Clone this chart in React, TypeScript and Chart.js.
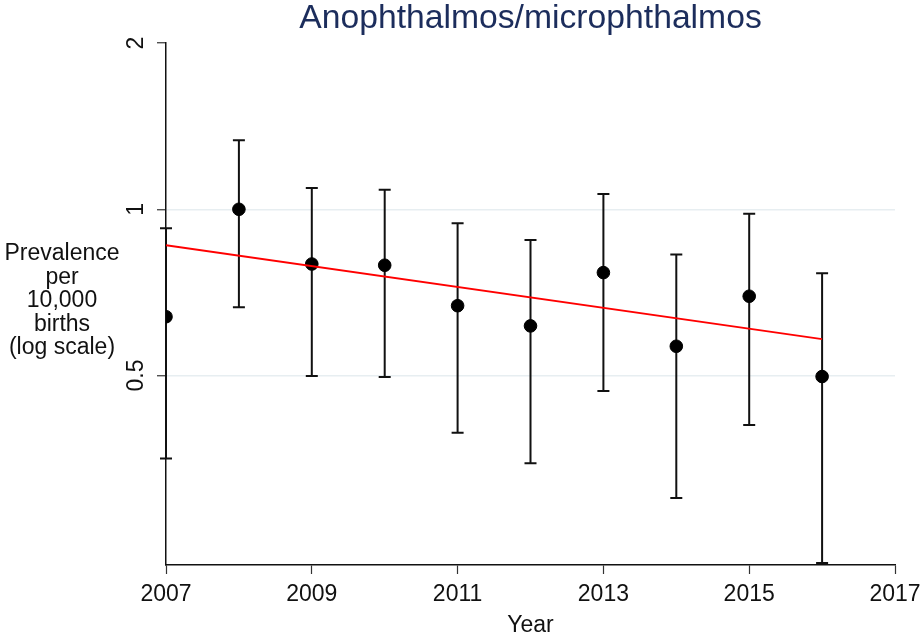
import React, { useEffect, useRef } from "react";
import { Chart, registerables } from "chart.js";

Chart.register(...registerables);

const chartTitle = "Anophthalmos/microphthalmos";
const yLabelLines = ["Prevalence", "per", "10,000", "births", "(log scale)"];
const xLabel = "Year";

const years = [2007, 2008, 2009, 2010, 2011, 2012, 2013, 2014, 2015, 2016];
const prevalence = [0.639, 1.0, 0.796, 0.792, 0.669, 0.615, 0.768, 0.565, 0.696, 0.498];
const lowerCI = [0.354, 0.665, 0.499, 0.497, 0.394, 0.347, 0.469, 0.3, 0.407, 0.229];
const upperCI = [0.924, 1.333, 1.093, 1.085, 0.943, 0.88, 1.066, 0.828, 0.982, 0.766];

const trendYears = [2007, 2016];
const trendValues = [0.861, 0.582];

const xTicks = [2007, 2009, 2011, 2013, 2015, 2017];
const yTicks = [0.5, 1, 2];
const yTickLabels = ["0.5", "1", "2"];

const FONT = "'Liberation Sans', Arial, Helvetica, sans-serif";

const errorBarPlugin = {
  id: "errorBars",
  beforeDatasetsDraw(chart: any) {
    const { ctx, scales } = chart;
    const xs = scales.x;
    const ys = scales.y;
    ctx.save();
    ctx.strokeStyle = "#111";
    ctx.lineWidth = 2;
    for (let i = 0; i < years.length; i++) {
      const x = xs.getPixelForValue(years[i]);
      const yl = ys.getPixelForValue(lowerCI[i]);
      const yu = ys.getPixelForValue(upperCI[i]);
      ctx.beginPath();
      ctx.moveTo(x, yl);
      ctx.lineTo(x, yu);
      ctx.moveTo(x - 6, yl);
      ctx.lineTo(x + 6, yl);
      ctx.moveTo(x - 6, yu);
      ctx.lineTo(x + 6, yu);
      ctx.stroke();
    }
    ctx.restore();
  },
};

const textPlugin = {
  id: "texts",
  afterDraw(chart: any) {
    const { ctx, chartArea } = chart;
    ctx.save();
    ctx.fillStyle = "#1c2d5c";
    ctx.font = `33.7px ${FONT}`;
    ctx.textAlign = "center";
    ctx.textBaseline = "middle";
    ctx.fillText(chartTitle, (chartArea.left + chartArea.right) / 2, 19);

    ctx.fillStyle = "#111";
    ctx.font = `23px ${FONT}`;
    const lh = 23.5;
    const midY = (chartArea.top + chartArea.bottom) / 2 - 3;
    const startY = midY - ((yLabelLines.length - 1) * lh) / 2;
    yLabelLines.forEach((line, i) => {
      ctx.fillText(line, 62, startY + i * lh);
    });
    ctx.restore();
  },
};

export default function App() {
  const canvasRef = useRef<HTMLCanvasElement | null>(null);

  useEffect(() => {
    const canvas = canvasRef.current;
    if (!canvas) return;
    const chart = new Chart(canvas, {
      type: "scatter",
      data: {
        datasets: [
          {
            type: "line",
            label: "Trend",
            data: trendYears.map((x, i) => ({ x, y: trendValues[i] })),
            borderColor: "#ff0000",
            borderWidth: 2,
            pointRadius: 0,
            fill: false,
            tension: 0,
          } as any,
          {
            type: "scatter",
            label: "Prevalence",
            data: years.map((x, i) => ({ x, y: prevalence[i] })),
            backgroundColor: "#000",
            borderColor: "#000",
            pointRadius: 6.3,
            pointHoverRadius: 6.3,
          },
        ],
      },
      options: {
        responsive: false,
        animation: false,
        devicePixelRatio: 1,
        layout: { padding: { top: 43, right: 27, bottom: 0, left: 0 } },
        plugins: {
          legend: { display: false },
          title: { display: false },
          tooltip: { enabled: false },
        },
        scales: {
          x: {
            type: "linear",
            min: 2007,
            max: 2017,
            afterBuildTicks: (scale: any) => {
              scale.ticks = xTicks.map((v) => ({ value: v }));
            },
            afterFit: (scale: any) => {
              scale.height = 72;
              scale.paddingLeft = 0;
              scale.paddingRight = 0;
            },
            ticks: {
              font: { family: FONT, size: 23 },
              color: "#111",
              padding: 7,
              maxRotation: 0,
              minRotation: 0,
              callback: (v: any) => String(v),
            },
            grid: {
              drawOnChartArea: false,
              drawTicks: true,
              tickLength: 9,
              tickColor: "#333",
              tickWidth: 1.2,
            },
            border: { display: true, color: "#111", width: 1.5 },
            title: {
              display: true,
              text: xLabel,
              font: { family: FONT, size: 23 },
              color: "#111",
              padding: { top: 0, bottom: -2 },
            },
          },
          y: {
            type: "logarithmic",
            min: 0.227,
            max: 2,
            afterBuildTicks: (scale: any) => {
              scale.ticks = yTicks.map((v) => ({ value: v }));
            },
            afterFit: (scale: any) => {
              scale.width = 166;
            },
            ticks: {
              font: { family: FONT, size: 23 },
              color: "#111",
              padding: 4,
              minRotation: 90,
              maxRotation: 90,
              crossAlign: "center",
              callback: (v: any) => {
                const idx = yTicks.indexOf(Number(v));
                return idx >= 0 ? yTickLabels[idx] : "";
              },
            },
            grid: {
              drawOnChartArea: true,
              drawTicks: true,
              tickLength: 9,
              tickColor: "#333",
              tickWidth: 1.2,
              lineWidth: 1.5,
              color: (ctx: any) =>
                ctx.tick && ctx.tick.value === 2 ? "rgba(0,0,0,0)" : "#e7eef1",
            },
            border: { display: true, color: "#111", width: 1.5 },
          },
        },
      },
      plugins: [errorBarPlugin, textPlugin],
    });
    return () => chart.destroy();
  }, []);

  return (
    <div
      style={{
        position: "absolute",
        left: 0,
        top: 0,
        width: 922,
        height: 637,
        background: "#fff",
      }}
    >
      <canvas ref={canvasRef} width={922} height={637} />
    </div>
  );
}
